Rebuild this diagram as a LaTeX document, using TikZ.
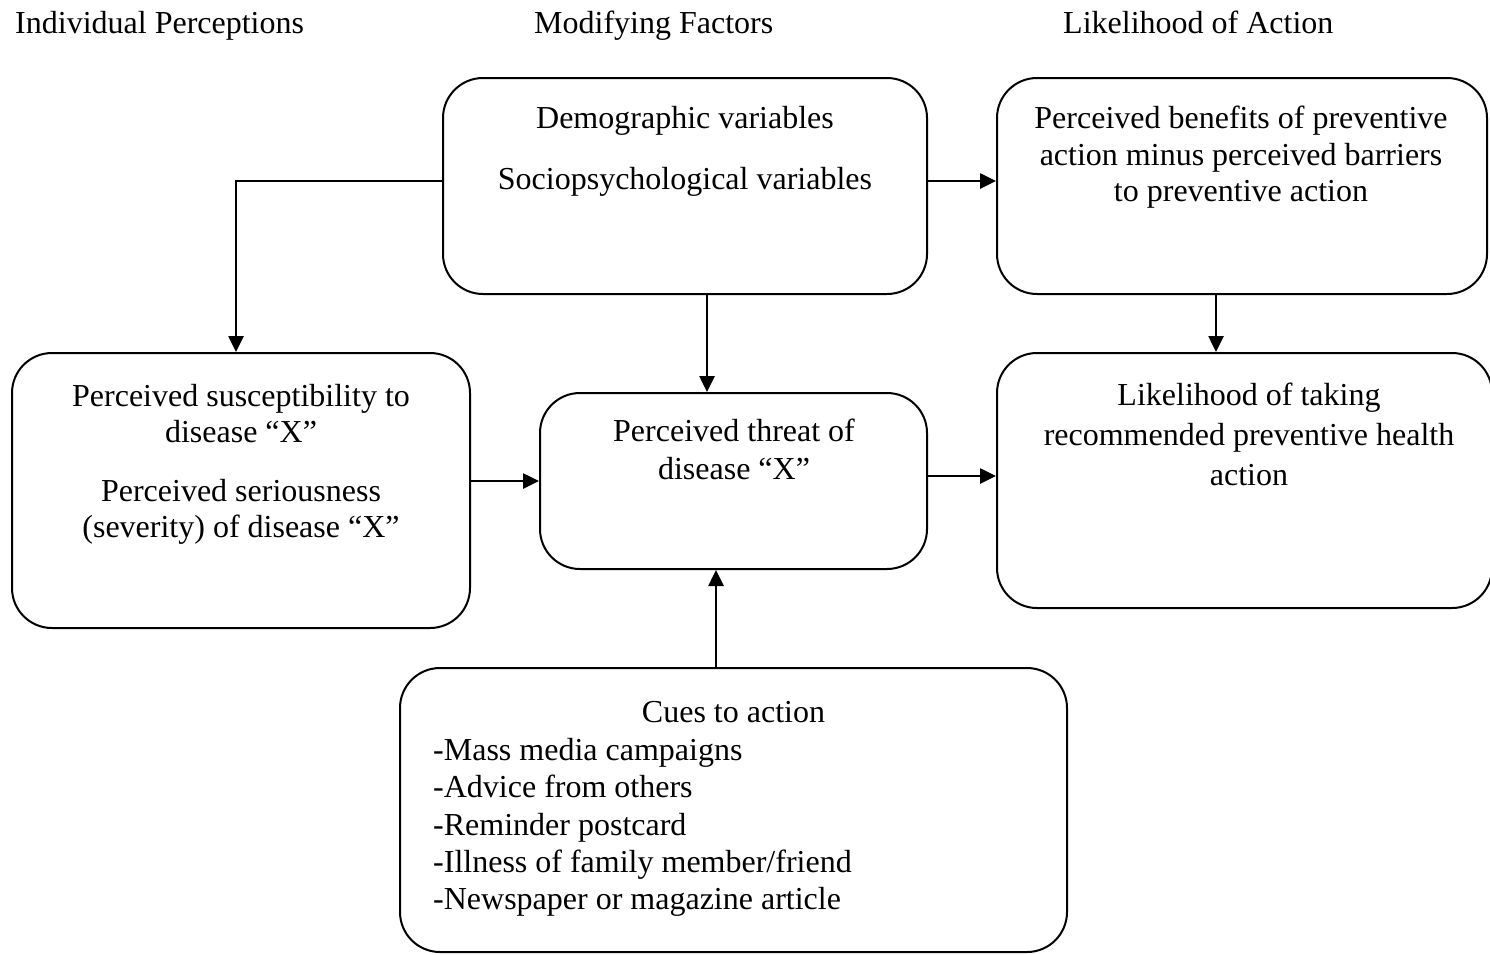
\documentclass[tikz,border=0pt]{standalone}
\usepackage{fontspec}
\setmainfont{Liberation Serif}
\usetikzlibrary{arrows.meta}
\begin{document}
\begin{tikzpicture}[x=1pt,y=-1pt,
  font=\fontsize{32}{37}\selectfont,
  box/.style={draw=black, line width=2pt, rounded corners=40pt, inner sep=0pt, fill=none},
  txt/.style={anchor=base, inner sep=0pt},
  ltxt/.style={anchor=base west, inner sep=0pt},
  arr/.style={line width=2.6pt, -{Triangle[length=16pt,width=15pt]}}]
\useasboundingbox (0,0) rectangle (1490,954);

% column headings
\node[ltxt] (h1) at (15,33) {Individual Perceptions};
\node[ltxt] (h2) at (534,33) {Modifying Factors};
\node[ltxt] (h3) at (1063,33) {Likelihood of Action};

% boxes
\node[box, minimum width=484pt, minimum height=216pt] (mod) at (685,186) {};
\node[box, minimum width=490pt, minimum height=216pt] (ben) at (1242,186) {};
\node[box, minimum width=458pt, minimum height=275pt] (sus) at (241,490.5) {};
\node[box, minimum width=387pt, minimum height=176pt] (thr) at (733.5,481) {};
\node[box, minimum width=495pt, minimum height=255pt] (lik) at (1244.5,480.5) {};
\node[box, minimum width=667pt, minimum height=284pt] (cue) at (733.5,810) {};

% modifying factors
\node[txt] (m1) at (685,128) {Demographic variables};
\node[txt] (m2) at (685,189) {Sociopsychological variables};

% benefits minus barriers
\node[txt] (b1) at (1241,128) {Perceived benefits of preventive};
\node[txt] (b2) at (1241,165) {action minus perceived barriers};
\node[txt] (b3) at (1241,201) {to preventive action};

% individual perceptions
\node[txt] (s1) at (241,406) {Perceived susceptibility to};
\node[txt] (s2) at (241,442) {disease “X”};
\node[txt] (s3) at (241,501) {Perceived seriousness};
\node[txt] (s4) at (241,537) {(severity) of disease “X”};

% perceived threat
\node[txt] (t1) at (734,441) {Perceived threat of};
\node[txt] (t2) at (734,479) {disease “X”};

% likelihood of action
\node[txt] (l1) at (1249,405) {Likelihood of taking};
\node[txt] (l2) at (1249,445) {recommended preventive health};
\node[txt] (l3) at (1249,485) {action};

% cues to action
\node[txt] (c0) at (733.5,722) {Cues to action};
\node[ltxt] (c1) at (433,760) {-Mass media campaigns};
\node[ltxt] (c2) at (433,797) {-Advice from others};
\node[ltxt] (c3) at (433,835) {-Reminder postcard};
\node[ltxt] (c4) at (433,872) {-Illness of family member/friend};
\node[ltxt] (c5) at (433,909) {-Newspaper or magazine article};

% connectors
\draw[arr] ([yshift=5pt]mod.west) -| ([xshift=-5pt]sus.north);
\draw[arr] ([yshift=5pt]mod.east) -- ([yshift=5pt]mod.east -| ben.west);
\draw[arr] ([xshift=22pt]mod.south) -- ([xshift=22pt]mod.south |- thr.north);
\draw[arr] ([xshift=-26pt]ben.south) -- ([xshift=-26pt]ben.south |- lik.north);
\draw[arr] ([yshift=9.5pt]sus.east) -- ([yshift=9.5pt]sus.east -| thr.west);
\draw[arr] ([yshift=5pt]thr.east) -- ([yshift=5pt]thr.east -| lik.west);
\draw[arr] ([xshift=-17.5pt]cue.north) -- ([xshift=-17.5pt]cue.north |- thr.south);
\end{tikzpicture}
\end{document}
